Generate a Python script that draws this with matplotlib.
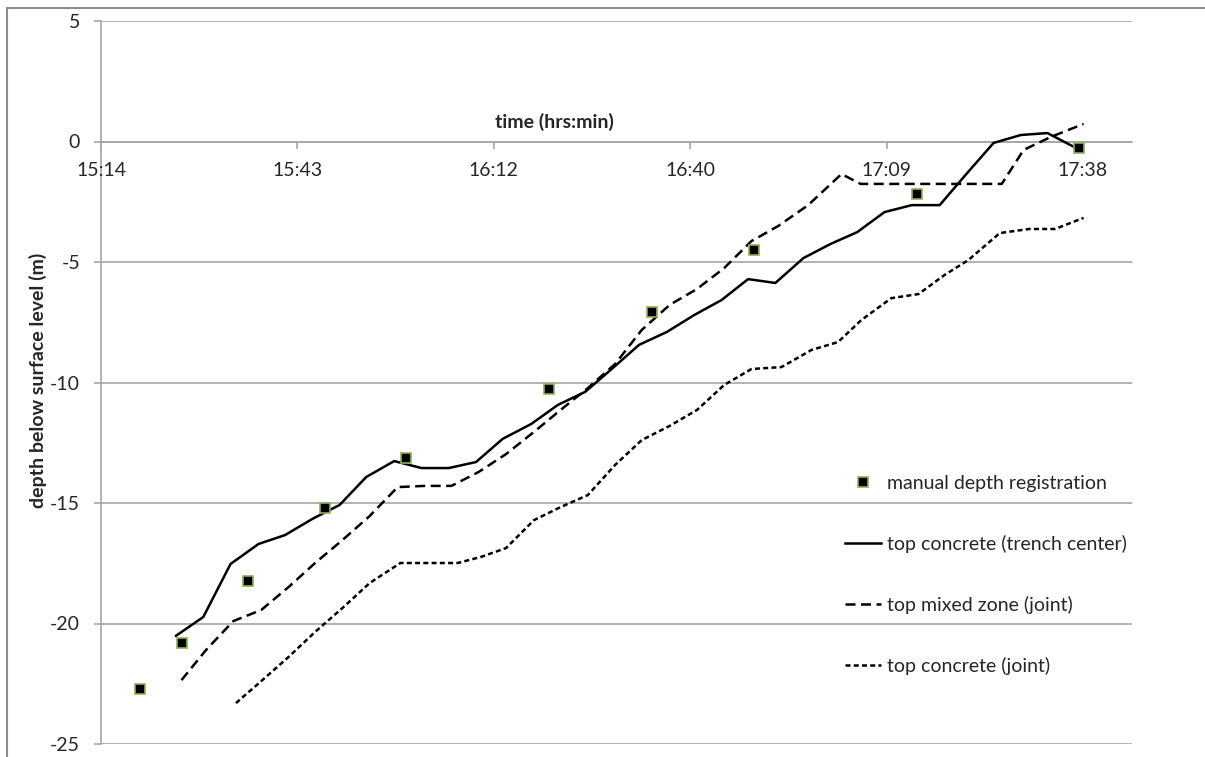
import matplotlib
matplotlib.use("Agg")
import matplotlib.pyplot as plt
from matplotlib.patches import Rectangle

plt.rcParams['font.family'] = ['Lato', 'DejaVu Sans']
plt.rcParams['axes.unicode_minus'] = False

# time in minutes after midnight, depth in m
manual_t = [920.1, 926.3, 936.0, 947.2, 959.1, 980.1, 995.2, 1010.1, 1034.1, 1057.9]
manual_d = [-22.72, -20.81, -18.24, -15.21, -13.13, -10.27, -7.07, -4.50, -2.18, -0.27]

center_t = [925.4, 929.4, 933.4, 937.5, 941.4, 945.4, 949.4, 953.3, 957.4, 961.4,
            965.4, 969.4, 973.3, 977.5, 981.4, 985.4, 989.3, 993.3, 997.4, 1001.4,
            1005.4, 1009.3, 1013.3, 1017.4, 1021.4, 1025.3, 1029.3, 1033.3, 1037.4, 1041.3,
            1045.3, 1049.3, 1053.2, 1057.4]
center_d = [-20.51, -19.73, -17.53, -16.70, -16.33, -15.66, -15.08, -13.92, -13.26, -13.55,
            -13.55, -13.30, -12.34, -11.72, -10.93, -10.39, -9.44, -8.44, -7.90, -7.20,
            -6.58, -5.71, -5.87, -4.84, -4.25, -3.76, -2.93, -2.64, -2.64, -1.35,
            -0.06, 0.27, 0.35, -0.27]

mixed_t = [926.2, 929.8, 933.8, 937.9, 941.9, 945.8, 949.8, 953.8, 957.9, 961.9,
           965.8, 969.8, 973.8, 977.9, 981.8, 985.8, 989.8, 993.7, 997.8, 1001.8,
           1005.8, 1009.8, 1013.7, 1018.1, 1023.0, 1025.8, 1029.7, 1033.7, 1037.8, 1041.8,
           1046.5, 1049.7, 1053.7, 1058.5]
mixed_d = [-22.35, -21.10, -19.90, -19.44, -18.49, -17.49, -16.54, -15.54, -14.34, -14.29,
           -14.29, -13.71, -12.97, -12.05, -11.14, -10.23, -9.23, -7.82, -6.78, -6.12,
           -5.25, -4.13, -3.51, -2.64, -1.35, -1.76, -1.76, -1.76, -1.76, -1.76,
           -1.76, -0.35, 0.19, 0.73]

joint_t = [934.2, 937.9, 941.9, 945.8, 949.8, 953.8, 958.3, 961.9, 966.7, 970.1,
           973.8, 977.9, 981.8, 985.8, 989.8, 993.7, 997.8, 1001.8, 1005.8, 1009.8,
           1014.2, 1018.6, 1022.5, 1025.9, 1030.3, 1034.3, 1038.1, 1041.6, 1046.2, 1050.5,
           1054.3, 1058.5]
joint_d = [-23.30, -22.39, -21.39, -20.35, -19.36, -18.32, -17.49, -17.49, -17.49, -17.24,
           -16.87, -15.71, -15.17, -14.67, -13.42, -12.39, -11.80, -11.14, -10.10, -9.44,
           -9.36, -8.65, -8.32, -7.41, -6.50, -6.33, -5.54, -4.92, -3.80, -3.63,
           -3.63, -3.17]

# excel style time ticks (0.02 day steps)
tick_t = [914.4, 943.2, 972.0, 1000.8, 1029.6, 1058.4]
tick_labels = ['15:14', '15:43', '16:12', '16:40', '17:09', '17:38']
y_ticks = [5, 0, -5, -10, -15, -20, -25]

grid_col = '#a6a6a6'
txt_col = '#262626'
fs = 14

fig = plt.figure(figsize=(12.05, 7.57), dpi=100)
fig.patches.append(Rectangle((7 / 1205, -0.1), 1.2, 1 - 8 / 757 + 0.1,
                             transform=fig.transFigure, fill=False,
                             edgecolor='#8c8c8c', linewidth=1.5))
ax = fig.add_axes([101 / 1205, 1 - 744 / 757, (1132 - 101) / 1205, (744 - 21) / 757])

for y in y_ticks:
    ax.axhline(y, color=grid_col, linewidth=1.2, zorder=0)

lw = 1.8
ax.plot(manual_t, manual_d, linestyle='none', marker='s', markersize=7.5,
        markerfacecolor='black', markeredgecolor='#8fae5a', markeredgewidth=1.2,
        label='manual depth registration', zorder=5)
ax.plot(center_t, center_d, color='black', linewidth=lw, label='top concrete (trench center)')
ax.plot(mixed_t, mixed_d, color='black', linewidth=lw, linestyle=(0, (4, 2.2)),
        label='top mixed zone (joint)')
ax.plot(joint_t, joint_d, color='black', linewidth=lw, linestyle=(0, (2, 1.3)),
        label='top concrete (joint)')

ax.set_xlim(914.4, 1065.6)
ax.set_ylim(-25, 5)
ax.set_yticks(y_ticks)
ax.set_xticks(tick_t)
ax.set_xticklabels(tick_labels)

for s in ['top', 'right']:
    ax.spines[s].set_visible(False)
ax.spines['bottom'].set_position(('data', 0))
for s in ['bottom', 'left']:
    ax.spines[s].set_color(grid_col)
    ax.spines[s].set_linewidth(1.2)
    ax.spines[s].set_zorder(0.5)

ax.tick_params(axis='both', colors=grid_col, labelcolor=txt_col, labelsize=fs,
               direction='out', length=5, width=1.2)
ax.tick_params(axis='x', pad=10)
ax.tick_params(axis='y', pad=10)

fig.text(554 / 1205, 1 - 122 / 757, 'time (hrs:min)', ha='center', va='center',
         fontsize=fs, fontweight='bold', color=txt_col)
fig.text(38 / 1205, 1 - 380 / 757, 'depth below surface level (m)', ha='center', va='center',
         rotation=90, fontsize=fs, fontweight='bold', color=txt_col)

ax.legend(loc='upper left', bbox_to_anchor=(845 / 1205, 1 - 475 / 757),
          bbox_transform=fig.transFigure, frameon=False, fontsize=fs,
          labelspacing=2.2, handlelength=1.85, handletextpad=0.3,
          borderpad=0, borderaxespad=0, labelcolor=txt_col)

fig.savefig('out.png', dpi=100)
